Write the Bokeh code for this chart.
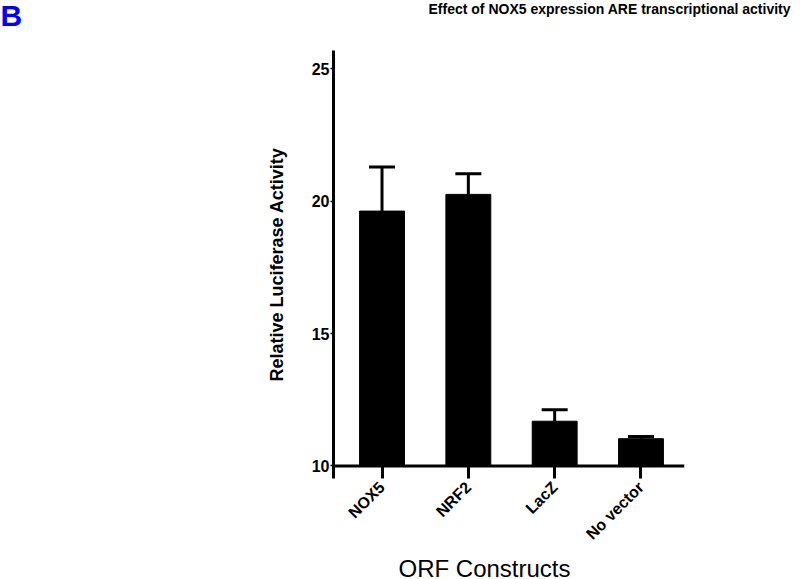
import math
from bokeh.plotting import figure
from bokeh.layouts import column
from bokeh.models import ColumnDataSource, Whisker, TeeHead, Label, FixedTicker, Span
from bokeh.embed import file_html
from bokeh.resources import INLINE

categories = ["NOX5", "NRF2", "LacZ", "No vector"]
means = [19.62, 20.25, 11.69, 11.03]
upper = [21.28, 21.03, 12.12, 11.11]
y_ticks = [10, 15, 20, 25]
baseline = 10

W = 796
H_HEAD, H_MAIN, H_FOOT = 26, 527, 25


def text_strip(height):
    f = figure(width=W, height=height, x_range=(0, 1), y_range=(0, 1),
               x_axis_type=None, y_axis_type=None, output_backend="svg",
               toolbar_location=None, min_border=0, frame_align=False)
    f.outline_line_color = None
    return f


# header with panel letter and title
head = text_strip(H_HEAD)
head.add_layout(Label(x=0, y=11, x_units="screen", y_units="screen", text="B",
                      text_font="Liberation Sans", text_font_style="bold",
                      text_font_size="30px", text_color="#0000ff",
                      text_baseline="alphabetic"))
head.add_layout(Label(x=428, y=18, x_units="screen", y_units="screen",
                      text="Effect of NOX5 expression ARE transcriptional activity",
                      text_font="Liberation Sans", text_font_style="bold",
                      text_font_size="14px", text_color="black",
                      text_baseline="alphabetic"))

# main chart
xs = list(range(1, len(categories) + 1))
src = ColumnDataSource(dict(x=xs, top=means, upper=upper))

p = figure(width=W, height=H_MAIN, x_range=(0.438, 4.504), y_range=(9.528, 25.68),
           output_backend="svg", toolbar_location=None, frame_align=False,
           min_border_left=333, min_border_top=24, min_border_right=112, min_border_bottom=75)
p.outline_line_color = None
p.xgrid.visible = False
p.ygrid.visible = False

p.vbar(x="x", top="top", bottom=baseline, width=0.52, source=src,
       fill_color="black", line_color="black")

p.add_layout(Whisker(base="x", lower="top", upper="upper", source=src,
                     line_color="black", line_width=3,
                     upper_head=TeeHead(size=26, line_width=3, line_color="black"),
                     lower_head=None))

p.add_layout(Span(location=baseline, dimension="width", line_color="black", line_width=3))

xa = p.xaxis[0]
xa.ticker = FixedTicker(ticks=xs)
xa.major_label_overrides = {i: c for i, c in zip(xs, categories)}
xa.major_label_orientation = math.pi / 4
xa.axis_line_color = None
xa.major_tick_line_width = 3
xa.major_tick_out = 0
xa.major_tick_in = 12
xa.minor_tick_line_color = None
xa.major_label_text_font = "Liberation Sans"
xa.major_label_text_font_style = "bold"
xa.major_label_text_font_size = "16px"
xa.major_label_text_color = "black"
xa.major_label_standoff = 6

ya = p.yaxis[0]
ya.ticker = FixedTicker(ticks=y_ticks)
ya.axis_line_width = 3
ya.major_tick_line_width = 1.5
ya.major_tick_out = 3
ya.major_tick_in = 0
ya.minor_tick_line_color = None
ya.major_label_text_font = "Liberation Sans"
ya.major_label_text_font_style = "bold"
ya.major_label_text_font_size = "16px"
ya.major_label_text_color = "black"
ya.major_label_standoff = 1
ya.axis_label = "Relative Luciferase Activity"
ya.axis_label_text_font = "Liberation Sans"
ya.axis_label_text_font_style = "bold"
ya.axis_label_text_font_size = "18px"
ya.axis_label_text_color = "black"
ya.axis_label_standoff = 22

# footer with x-axis title
foot = text_strip(H_FOOT)
foot.add_layout(Label(x=484, y=10, x_units="screen", y_units="screen",
                      text="ORF Constructs", text_font="Liberation Sans",
                      text_font_size="24px", text_color="black",
                      text_align="center", text_baseline="alphabetic"))

layout = column(head, p, foot, spacing=0)
open("out.html", "w").write(file_html(layout, INLINE))
